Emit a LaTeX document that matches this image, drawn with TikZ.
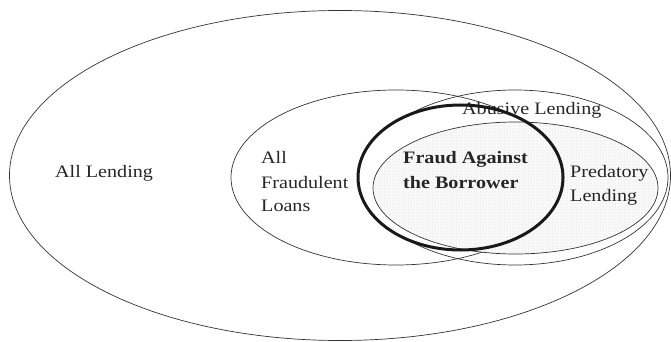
\documentclass[tikz,border=0pt]{standalone}
\usepackage{fontspec}
\setmainfont[FakeStretch=1.15]{Liberation Serif}
\usetikzlibrary{patterns}
\begin{document}
\begin{tikzpicture}[x=1pt,y=-1pt,
  thinline/.style={draw=black!80, line width=0.7pt},
  lbl/.style={anchor=base west, inner sep=0pt, text=black!85, font=\fontsize{17.5}{21}\selectfont},
  blbl/.style={lbl, font=\fontsize{17.5}{21}\selectfont\bfseries}]
\useasboundingbox (0,0) rectangle (671,342);
% All Lending
\draw[thinline] (340,175.5) ellipse [x radius=330.5, y radius=165];
% All Fraudulent Loans
\draw[thinline] (396,177.5) ellipse [x radius=165, y radius=87.5];
% Abusive Lending
\draw[thinline] (515,177.5) ellipse [x radius=153, y radius=87.5];
% interior of Fraud Against the Borrower
\fill[white] (460.5,177.5) ellipse [x radius=102.5, y radius=72.5];
% Predatory Lending (shaded)
\fill[gray!4] (515.5,188) ellipse [x radius=142.5, y radius=66];
\fill[pattern=dots, pattern color=gray!35] (515.5,188) ellipse [x radius=142.5, y radius=66];
\draw[thinline] (515.5,188) ellipse [x radius=142.5, y radius=66];
% labels
\node[lbl] (alllending) at (55,177.5) {All Lending};
\node[lbl] (fr1) at (261,163) {All};
\node[lbl] (fr2) at (261,188) {Fraudulent};
\node[lbl] (fr3) at (261,211.5) {Loans};
\node[lbl] (abusive) at (462,114) {Abusive Lending};
\node[lbl] (pred1) at (570,177) {Predatory};
\node[lbl] (pred2) at (570,201.5) {Lending};
\node[blbl] (fab1) at (403,163.5) {Fraud Against};
\node[blbl] (fab2) at (403,188) {the Borrower};
% Fraud Against the Borrower outline
\draw[line width=3pt, black!90] (460.5,177.5) ellipse [x radius=102.5, y radius=72.5];
\end{tikzpicture}
\end{document}
